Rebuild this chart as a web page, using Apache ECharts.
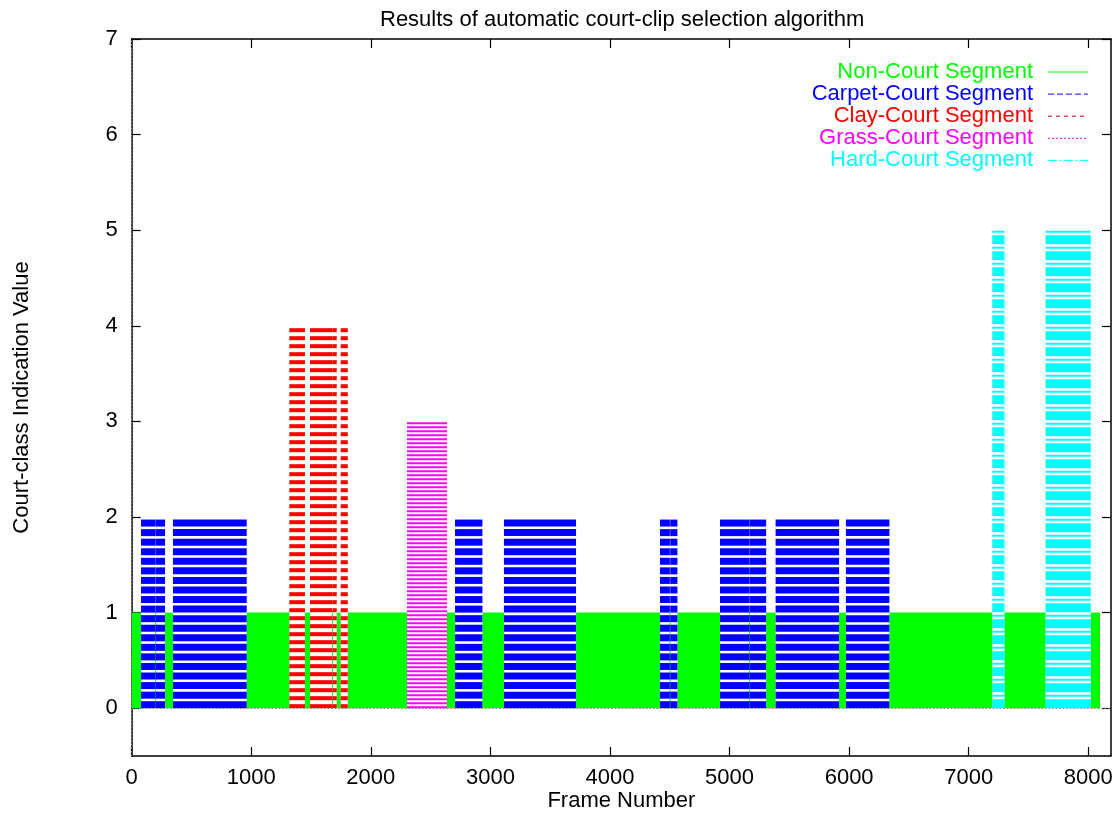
<!DOCTYPE html>
<html>
<head>
<meta charset="utf-8">
<script src="https://cdn.jsdelivr.net/npm/echarts@6/dist/echarts.min.js"></script>
<style>
html,body{margin:0;padding:0;background:#fff;}
#chart{width:1119px;height:814px;}
</style>
</head>
<body>
<div id="chart"></div>
<script>
// ---- data (frame ranges [startFrame, endFrame] per court class) ----
const seriesNames = ['Non-Court Segment', 'Carpet-Court Segment', 'Clay-Court Segment', 'Grass-Court Segment', 'Hard-Court Segment'];
const classValues = [1, 2, 4, 3, 5];
const nonCourtFrames = [[0,77],[200,200],[279,344],[962,1317],[1449,1490],[1678,1678],[1715,1747],[1807,2301],[2637,2703],[2933,3112],[3716,4417],[4501,4503],[4564,4919],[5165,5165],[5306,5384],[5916,5972],[6337,7196],[7299,7642],[8021,8097]];
const carpetFrames = [[78,199],[201,278],[345,961],[2704,2932],[3113,3715],[4418,4500],[4504,4563],[4920,5164],[5166,5305],[5385,5915],[5973,6336]];
const clayFrames = [[1318,1448],[1491,1677],[1679,1714],[1748,1806]];
const grassFrames = [[2302,2636]];
const hardFrames = [[7197,7298],[7643,8020]];
const xTickValues = [0,1000,2000,3000,4000,5000,6000,7000,8000];
const yTickValues = [0,1,2,3,4,5,6,7];
const xMax = 8190;
const yMin = -0.5, yMax = 7;

// ---- styles ----
const colors = ['#00ff00', '#0000ff', '#ff0000', '#ff00ff', '#00ffff'];
const stripePatterns = [null, [7, 2.56], [4, 4], [2, 2], [9, 2.5, 2, 2.5]];
const legendDash = [null, [6, 3], [4, 4], [2, 2], [9, 2.5, 2, 2.5]];
const FONT = 'Liberation Sans, Arial, Helvetica, sans-serif';
const FS = 22;

const frameSets = [nonCourtFrames, carpetFrames, clayFrames, grassFrames, hardFrames];

function makeRender(idx) {
  const color = colors[idx];
  const pattern = stripePatterns[idx];
  return function (params, api) {
    const s = api.value(0), e = api.value(1), v = api.value(2);
    const p0 = api.coord([s, 0]);
    const p1 = api.coord([e + 1, v]);
    let x0 = p0[0], x1 = p1[0];
    if (x1 - x0 < 1) { const c = (x0 + x1) / 2; x0 = c - 0.5; x1 = c + 0.5; }
    const yBase = p0[1], yTop = p1[1];
    if (!pattern) {
      return { type: 'rect', shape: { x: x0, y: yTop, width: x1 - x0, height: yBase - yTop }, style: { fill: color } };
    }
    const children = [];
    let y = yBase, i = 0;
    while (y > yTop + 0.01) {
      const len = pattern[i % pattern.length];
      const y2 = Math.max(y - len, yTop);
      if (i % 2 === 0) {
        children.push({ type: 'rect', shape: { x: x0, y: y2, width: x1 - x0, height: y - y2 }, style: { fill: color } });
      }
      y -= len; i++;
    }
    return { type: 'group', children: children };
  };
}

const series = frameSets.map(function (set, idx) {
  const s = {
    name: seriesNames[idx],
    type: 'custom',
    xAxisIndex: 0, yAxisIndex: 0,
    clip: true,
    renderItem: makeRender(idx),
    encode: { x: [0, 1], y: 2 },
    data: set.map(function (r) { return [r[0], r[1], classValues[idx]]; }),
    silent: true,
    animation: false,
    z: 2 + idx
  };
  if (idx === 0) {
    s.markLine = {
      silent: true, symbol: ['none', 'none'], animation: false,
      label: { show: false },
      lineStyle: { color: '#888', type: [1.5, 2], width: 1 },
      data: [{ yAxis: 0 }, { xAxis: 0 }]
    };
  }
  return s;
});

// legend drawn as graphic (gnuplot style: text right-aligned, sample to the right)
const legendGraphics = [];
const legendTop = 72, legendStep = 22.1;
seriesNames.forEach(function (name, i) {
  const y = legendTop + i * legendStep;
  legendGraphics.push({
    type: 'text', x: 1033, y: y,
    style: { text: name, fill: colors[i], font: FS + 'px ' + FONT, textAlign: 'right', textVerticalAlign: 'middle' }
  });
  legendGraphics.push({
    type: 'line', shape: { x1: 1048, y1: y, x2: 1088, y2: y },
    style: { stroke: colors[i], lineWidth: 1, lineDash: legendDash[i] || null }
  });
});

const axisLineStyle = { color: '#000', width: 1.5 };
const tickStyle = { color: '#000', width: 1.2 };
const plainNum = function (v) { return String(v); };

const option = {
  animation: false,
  backgroundColor: '#fff',
  title: {
    text: 'Results of automatic court-clip selection algorithm',
    left: 375, top: 4,
    textStyle: { fontFamily: FONT, fontSize: FS, fontWeight: 'normal', color: '#000' }
  },
  grid: { left: 131.7, right: 8, top: 39, bottom: 58, containLabel: false, outerBoundsMode: 'none' },
  xAxis: [{
    type: 'value', position: 'bottom', min: 0, max: xMax,
    name: 'Frame Number', nameLocation: 'middle', nameGap: 34, nameMoveOverlap: false,
    nameTextStyle: { fontFamily: FONT, fontSize: FS, color: '#000' },
    axisLine: { show: true, onZero: false, lineStyle: axisLineStyle },
    axisTick: { show: true, inside: true, length: 9, lineStyle: tickStyle, customValues: xTickValues },
    axisLabel: { show: true, margin: 11, fontFamily: FONT, fontSize: FS, color: '#000', customValues: xTickValues, formatter: plainNum },
    splitLine: { show: false }
  }, {
    type: 'value', position: 'top', min: 0, max: xMax,
    axisLine: { show: true, onZero: false, lineStyle: axisLineStyle },
    axisTick: { show: true, inside: true, length: 9, lineStyle: tickStyle, customValues: xTickValues },
    axisLabel: { show: false },
    splitLine: { show: false }
  }],
  yAxis: [{
    type: 'value', position: 'left', min: yMin, max: yMax,
    name: 'Court-class Indication Value', nameLocation: 'middle', nameGap: 99, nameMoveOverlap: false,
    nameTextStyle: { fontFamily: FONT, fontSize: FS, color: '#000' },
    axisLine: { show: true, onZero: false, lineStyle: axisLineStyle },
    axisTick: { show: true, inside: true, length: 9, lineStyle: tickStyle, customValues: yTickValues },
    axisLabel: { show: true, margin: 14, fontFamily: FONT, fontSize: FS, color: '#000', customValues: yTickValues, formatter: plainNum },
    splitLine: { show: false }
  }, {
    type: 'value', position: 'right', min: yMin, max: yMax,
    axisLine: { show: true, onZero: false, lineStyle: axisLineStyle },
    axisTick: { show: true, inside: true, length: 9, lineStyle: tickStyle, customValues: yTickValues },
    axisLabel: { show: false },
    splitLine: { show: false }
  }],
  graphic: { elements: legendGraphics },
  series: series
};

const chart = echarts.init(document.getElementById('chart'), null, { renderer: 'canvas' });
chart.setOption(option);
</script>
</body>
</html>
